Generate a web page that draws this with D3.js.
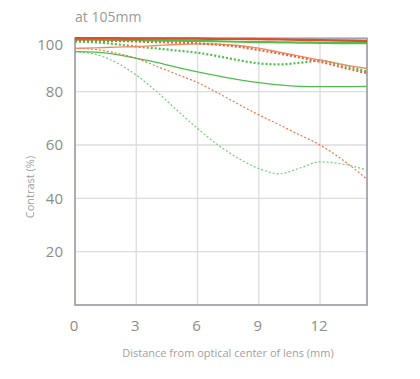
<!DOCTYPE html>
<html><head><meta charset="utf-8">
<script src="https://cdn.jsdelivr.net/npm/d3@7"></script>
<style>
html,body{margin:0;padding:0;background:#fff;}
svg text{font-family:"Open Sans","Noto Sans",sans-serif;}
</style></head>
<body><svg id="c" width="420" height="379"></svg>
<script>
const xs = [0,1,2,3,4,5,6,7,8,9,10,11,12,13,14.3];
const xTicks = [0,3,6,9,12];
const yTicks = [20,40,60,80,100];
const title = "at 105mm";
const xTitle = "Distance from optical center of lens (mm)";
const yTitle = "Contrast (%)";
// green = wide open, red/orange = F8 ; solid = sagittal, dotted = meridional
const green10S = [99.5,99.5,99.4,99.3,99.2,99.1,99,98.9,98.7,98.6,98.5,98.4,98.3,98.2,98.2];
const green10M = [98.8,98.5,97.8,96.9,96.2,95.4,94.6,93.3,91.8,90.6,90.2,90.8,91.6,90.2,87.5];
const green30S = [95,94.8,94,92.5,91,89.1,87.4,85.9,84.5,83.4,82.5,82,81.9,81.9,82];
const green30M = [95,94,91,86.2,80,73,66.2,60,55,51.2,49.2,51.3,53.7,53,50.6];
const red10S = [100,100,100,99.9,99.9,99.9,99.9,99.8,99.8,99.7,99.6,99.4,99.3,99.2,99.0];
const red10M = [99.2,99.1,99,98.8,98.6,98.4,98.1,97.6,96.8,95.6,94.3,92.8,91.2,89.3,86.9];
const red30S = [96.2,96.4,96.7,96.9,97.3,97.7,97.9,97.8,97.3,96.3,94.8,93.3,91.9,90.3,88.7];
const red30M = [96.3,95.8,94.5,92.5,89.5,86.5,83.4,79.5,75.3,71.3,67.6,63.8,60,55,47.2];

const series = [
  {v:green30M, c:"#74cf74", w:1.2, d:"2,2"},
  {v:green30S, c:"#4cbf4c", w:1.3, d:null},
  {v:green10M, c:"#4cbf4c", w:2.2, d:"2,2"},
  {v:green10S, c:"#4cbf4c", w:2.2, d:null},
  {v:red30M, c:"#ec7448", w:1.2, d:"2,2"},
  {v:red30S, c:"#f08a60", w:1.4, d:null},
  {v:red10M, c:"#e8643c", w:2.2, d:"2,2"},
  {v:red10S, c:"#d9502c", w:2.4, d:null}
];

const svg = d3.select("#c");
const x = d3.scaleLinear().domain([0,14.3]).range([75,367]);
const y = d3.scaleLinear().domain([0,100]).range([305,38.3]);

// grid
svg.append("g").selectAll("line").data(xTicks.slice(1)).join("line")
  .attr("x1",d=>x(d)).attr("x2",d=>x(d)).attr("y1",y(0)).attr("y2",y(100))
  .attr("stroke","#dcdce2").attr("stroke-width",1.3);
svg.append("g").selectAll("line").data(yTicks.slice(0,-1)).join("line")
  .attr("x1",x(0)).attr("x2",x(14.3)).attr("y1",d=>y(d)).attr("y2",d=>y(d))
  .attr("stroke","#dcdce2").attr("stroke-width",1.3);

// frame
svg.append("rect").attr("x",x(0)).attr("y",y(100)).attr("width",x(14.3)-x(0)).attr("height",y(0)-y(100))
  .attr("fill","none").attr("stroke","#a4a4ae").attr("stroke-width",1.8);

// lines
const line = d3.line().x((d,i)=>x(xs[i])).y(d=>y(d)).curve(d3.curveMonotoneX);
svg.append("g").selectAll("path").data(series).join("path")
  .attr("d",d=>line(d.v)).attr("fill","none")
  .attr("stroke",d=>d.c).attr("stroke-width",d=>d.w)
  .attr("stroke-dasharray",d=>d.d);

// tick labels
svg.append("g").selectAll("text").data(yTicks).join("text")
  .attr("x",63).attr("y",d=> d===100 ? 44.5 : y(d)).attr("dy","0.35em")
  .attr("text-anchor","end").attr("font-size",15).attr("fill","#8c8c8c").text(d=>d);
svg.append("g").selectAll("text").data(xTicks).join("text")
  .attr("x",d=>x(d)-1).attr("y",326).attr("dy","0.35em")
  .attr("text-anchor","middle").attr("font-size",15).attr("fill","#8c8c8c").text(d=>d);

svg.append("text").attr("x",75).attr("y",22).attr("font-size",14).attr("fill","#9a9a9a").text(title);
svg.append("text").attr("x",228).attr("y",353).attr("dy","0.35em").attr("text-anchor","middle")
  .attr("font-size",11).attr("fill","#a0a0a0").text(xTitle);
svg.append("text").attr("transform","translate(30,187) rotate(-90)").attr("dy","0.35em")
  .attr("text-anchor","middle").attr("font-size",11).attr("fill","#a0a0a0").text(yTitle);
</script></body></html>
